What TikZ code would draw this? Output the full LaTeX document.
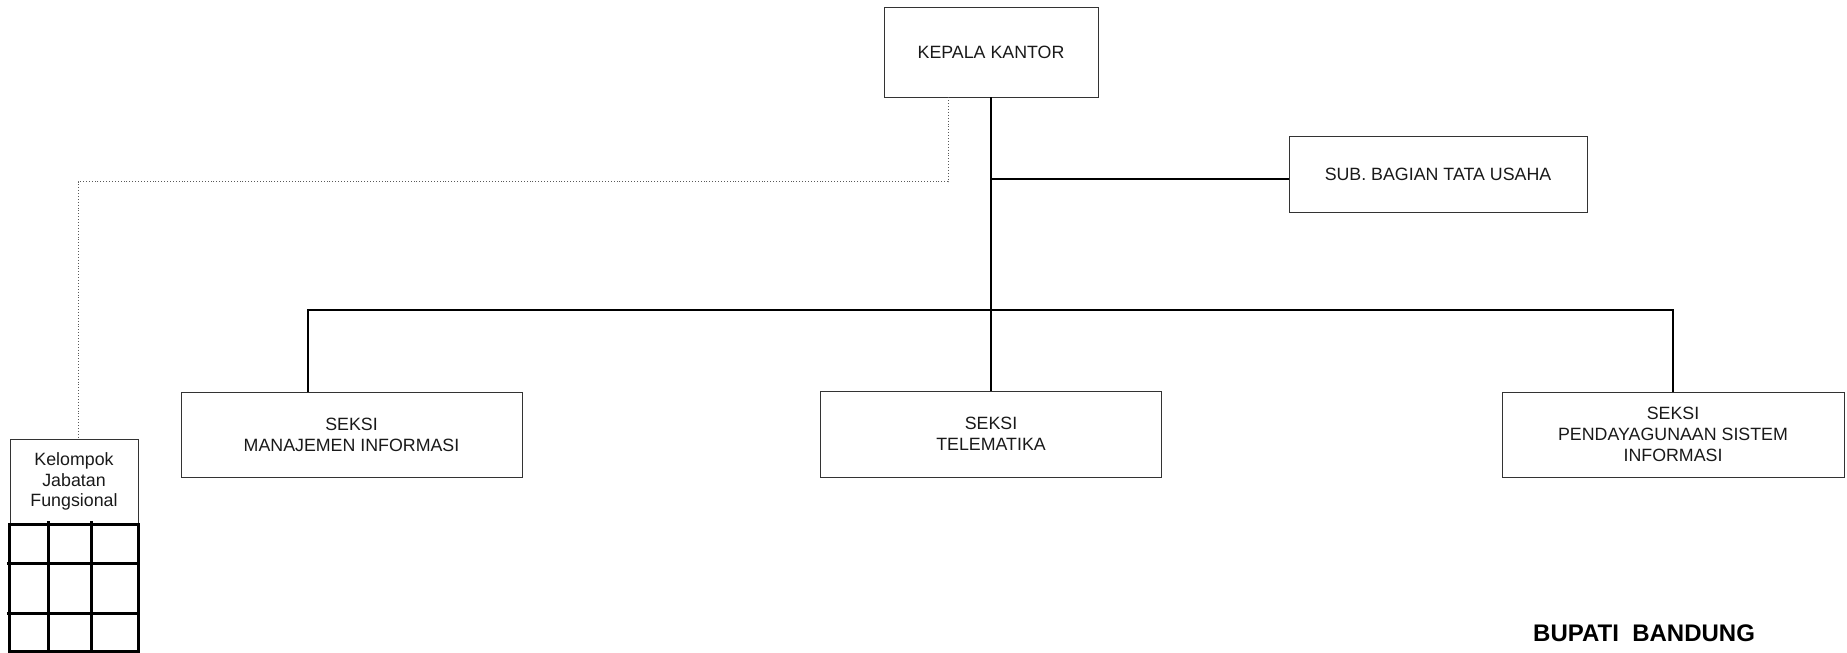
\documentclass[tikz,border=0pt]{standalone}
\usepackage{fontspec}
\setmainfont{Liberation Sans}
\begin{document}
\begin{tikzpicture}[x=1pt,y=-1pt,
  unit/.style={draw=black!80,line width=0.8pt,rectangle,align=center,inner sep=0pt,
    font=\fontsize{17.8}{20.8}\selectfont,text=black!90},
  link/.style={line width=2pt,black},
  staffline/.style={draw=black!65,line width=0.9pt,dotted},
  gridline/.style={line width=3pt,black}]
\useasboundingbox (0,0) rectangle (1847,653);

% units
\node[unit,minimum width=214pt,minimum height=90pt] (kepala) at (991,52) {KEPALA KANTOR};
\node[unit,minimum width=298pt,minimum height=76pt] (tu) at (1438,174) {SUB. BAGIAN TATA USAHA};
\node[unit,minimum width=341pt,minimum height=85pt] (mi) at (351.5,434.5) {SEKSI\\MANAJEMEN INFORMASI};
\node[unit,minimum width=341pt,minimum height=86pt] (tel) at (991,434) {SEKSI\\TELEMATIKA};
\node[unit,minimum width=342pt,minimum height=85pt] (psi) at (1673,434.5) {SEKSI\\PENDAYAGUNAAN SISTEM\\INFORMASI};
\node[unit,minimum width=128pt,minimum height=85pt] (kjf) at (74,481.5) {Kelompok\\Jabatan\\Fungsional};

% solid lines of command
\coordinate (bus) at (991,310);
\coordinate (tuin) at (991,179);
\draw[link] (kepala.south) -- (tel.north);
\draw[link] (tuin) -- (tuin -| tu.west);
\draw[link] ([xshift=-43.5pt]mi.north) |- (bus) -| (psi.north);

% dotted line to the functional group
\coordinate (dj) at (78,181.5);
\draw[staffline] ([xshift=-43pt]kepala.south) |- (dj) -- (dj |- kjf.north);

% grid under the functional group
\draw[gridline] (kjf.south west) rectangle (138,651);
\draw[gridline] (48,521) -- (48,651);
\draw[gridline] (91,521) -- (91,651);
\draw[gridline] (7,563) -- (138,563);
\draw[gridline] (7,613) -- (138,613);

\node[anchor=base west,inner sep=0pt,font=\fontsize{24}{28}\selectfont\bfseries] (bupati) at (1533,641) {BUPATI~ BANDUNG};
\end{tikzpicture}
\end{document}
